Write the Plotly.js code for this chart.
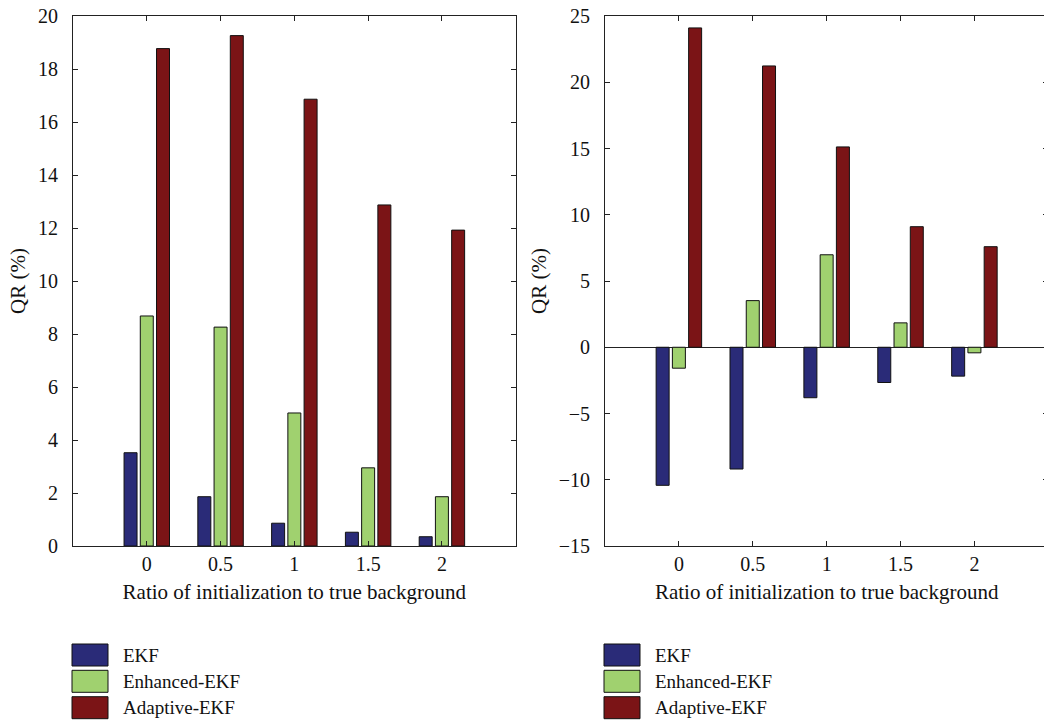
<!DOCTYPE html>
<html><head><meta charset="utf-8">
<script src="https://cdn.plot.ly/plotly-3.0.1.min.js"></script>
<style>html,body{margin:0;padding:0;overflow:hidden;background:#fff}#chart{width:1050px;height:725px}</style>
</head><body><div id="chart"></div>
<script>
const ratios = [0, 0.5, 1, 1.5, 2];
const seriesNames = ['EKF', 'Enhanced-EKF', 'Adaptive-EKF'];
const seriesColors = ['#2a2b78', '#a0d16f', '#7b1416'];
// Left panel
const leftEKF = [3.52, 1.86, 0.86, 0.52, 0.35];
const leftEnhanced = [8.68, 8.26, 5.02, 2.95, 1.86];
const leftAdaptive = [18.77, 19.26, 16.86, 12.87, 11.92];
// Right panel
const rightEKF = [-10.42, -9.19, -3.81, -2.66, -2.18];
const rightEnhanced = [-1.58, 3.52, 6.98, 1.84, -0.42];
const rightAdaptive = [24.1, 21.23, 15.12, 9.1, 7.59];
const rightTicks = [-15, -10, -5, 0, 5, 10, 15, 20, 25];

const FONT = 'Liberation Serif, Times New Roman, serif';
const leftSeries = [leftEKF, leftEnhanced, leftAdaptive];
const rightSeries = [rightEKF, rightEnhanced, rightAdaptive];
const traces = [];
leftSeries.forEach((ys, i) => traces.push({
  type: 'bar', x: ratios, y: ys, name: seriesNames[i], xaxis: 'x', yaxis: 'y',
  marker: {color: seriesColors[i], line: {color: '#111', width: 1}}, showlegend: false
}));
rightSeries.forEach((ys, i) => traces.push({
  type: 'bar', x: ratios, y: ys, name: seriesNames[i], xaxis: 'x2', yaxis: 'y2',
  marker: {color: seriesColors[i], line: {color: '#111', width: 1}}, showlegend: false
}));

const W = 1050, H = 725, T = 16, B = 179;
const axisCommon = {
  showline: true, linecolor: '#222', linewidth: 1, mirror: 'ticks', ticks: 'inside',
  ticklen: 5, tickcolor: '#222', showgrid: false, zeroline: false,
  tickfont: {family: FONT, size: 20, color: '#111'}
};
const xCommon = Object.assign({}, axisCommon, {
  range: [-0.5, 2.5], tickvals: ratios, ticktext: ratios.map(String), ticklabelstandoff: 0,
  title: {text: 'Ratio of initialization to true background', font: {family: FONT, size: 21, color: '#111'}, standoff: 10}
});
const yTitle = {text: 'QR (%)', font: {family: FONT, size: 21, color: '#111'}, standoff: 6};
const layout = {
  width: W, height: H,
  margin: {l: 0, r: 0, t: T, b: B},
  paper_bgcolor: '#fff', plot_bgcolor: '#fff',
  barmode: 'group', bargap: 0.34, bargroupgap: 0.2,
  xaxis: Object.assign({}, xCommon, {domain: [73/W, 515.7/W], anchor: 'y'}),
  xaxis2: Object.assign({}, xCommon, {domain: [605/W, 1048.3/W], anchor: 'y2'}),
  yaxis: Object.assign({}, axisCommon, {domain: [0, 1], anchor: 'x', range: [0, 20], dtick: 2,
    ticklabelstandoff: 10, title: yTitle}),
  yaxis2: Object.assign({}, axisCommon, {domain: [0, 1], anchor: 'x2', range: [-15, 25],
    zeroline: true, zerolinecolor: '#222', zerolinewidth: 1, ticklabelstandoff: 10,
    tickvals: rightTicks, ticktext: rightTicks.map(v => v < 0 ? '\u2212' + Math.abs(v) : String(v)),
    title: yTitle}),
  shapes: [], annotations: [], showlegend: false
};
// Custom legends (large swatches) below each panel
const legendX = [72, 604];
const textX = [121, 653];
const rowTop = [644, 670.3, 696.7];
const py = v => 1 - (v - T) / (H - T - B);
legendX.forEach((lx, p) => {
  seriesNames.forEach((nm, i) => {
    layout.shapes.push({type: 'rect', xref: 'paper', yref: 'paper',
      x0: lx / W, x1: (lx + 36) / W, y0: py(rowTop[i] + 22), y1: py(rowTop[i]),
      fillcolor: seriesColors[i], line: {color: '#111', width: 1}});
    layout.annotations.push({xref: 'paper', yref: 'paper', x: textX[p] / W, y: py(rowTop[i] + 11),
      xanchor: 'left', yanchor: 'middle', showarrow: false, text: nm,
      font: {family: FONT, size: 19, color: '#111'}});
  });
});
Plotly.newPlot('chart', traces, layout, {staticPlot: true});
</script></body></html>
